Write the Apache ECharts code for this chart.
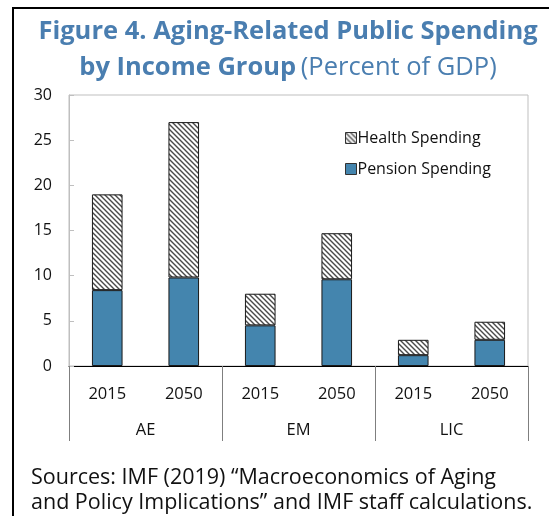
<!DOCTYPE html>
<html>
<head>
<meta charset="utf-8">
<script src="https://cdn.jsdelivr.net/npm/echarts@6/dist/echarts.min.js"></script>
<style>
  html, body { margin: 0; padding: 0; background: #fff; }
  #chart { width: 549px; height: 516px; }
</style>
</head>
<body>
<div id="chart"></div>
<script>
// Aging-related public spending, percent of GDP
const yearLabels = ['2015', '2050', '2015', '2050', '2015', '2050'];
const groupLabels = ['AE', 'EM', 'LIC'];
const pensionSpending = [8.4, 9.8, 4.5, 9.6, 1.2, 2.9];
const healthSpending = [10.6, 17.2, 3.5, 5.1, 1.7, 2.0];
const yTicks = { min: 0, max: 30, step: 5 };

const FONT = '"Open Sans", "Noto Sans", sans-serif';
const BLUE = '#4485AE';
const TITLE_BLUE = '#4A7EB0';

// diagonal hatch tile for the health bars
function hatchTile() {
  const s = 5;
  const c = document.createElement('canvas');
  c.width = s; c.height = s;
  const g = c.getContext('2d');
  g.fillStyle = '#fff';
  g.fillRect(0, 0, s, s);
  g.strokeStyle = '#4a4a4a';
  g.lineWidth = 1.4;
  g.beginPath();
  g.moveTo(-1, -1); g.lineTo(s + 1, s + 1);
  g.moveTo(-1, s - 1); g.lineTo(1, s + 1);
  g.moveTo(s - 1, -1); g.lineTo(s + 1, 1);
  g.stroke();
  return c;
}
const hatch = { image: hatchTile(), repeat: 'repeat' };

const chart = echarts.init(document.getElementById('chart'), null, { renderer: 'canvas' });

chart.setOption({
  backgroundColor: '#fff',
  textStyle: { fontFamily: FONT },
  animation: false,
  title: [
    {
      text: '{b|Figure 4. Aging-Related Public Spending}\n{b|by Income Group} {n|(Percent of GDP)}',
      left: 283,
      top: 9,
      textAlign: 'center',
      textStyle: {
        rich: {
          b: { fontFamily: FONT, fontSize: 25.5, fontWeight: 'bold', color: TITLE_BLUE, lineHeight: 36, align: 'center' },
          n: { fontFamily: FONT, fontSize: 25.5, fontWeight: 'normal', color: TITLE_BLUE, lineHeight: 36 }
        }
      }
    },
    {
      text: 'Sources: IMF (2019) \u201cMacroeconomics of Aging\nand Policy Implications\u201d and IMF staff calculations.',
      left: 26,
      top: 460,
      textStyle: { fontFamily: FONT, fontSize: 21.5, fontWeight: 'normal', color: '#111', lineHeight: 25 }
    }
  ],
  legend: {
    data: ['Health Spending', 'Pension Spending'],
    orient: 'vertical',
    left: 340,
    top: 125,
    itemWidth: 11,
    itemHeight: 11,
    itemGap: 15,
    icon: 'rect',
    itemStyle: { borderColor: '#333', borderWidth: 1 },
    textStyle: { fontFamily: FONT, fontSize: 16, color: '#111', padding: [0, 0, 0, -4] }
  },
  grid: {
    left: 69, right: 21, top: 95, bottom: 150,
    show: true, borderColor: '#BFBFBF', borderWidth: 1, backgroundColor: 'transparent'
  },
  xAxis: [
    {
      type: 'category',
      data: yearLabels,
      position: 'bottom',
      axisLine: { show: true, lineStyle: { color: '#000', width: 1 } },
      axisTick: { show: false },
      axisLabel: { fontFamily: FONT, fontSize: 16.5, color: '#111', margin: 20, interval: 0 },
      splitLine: { show: false }
    },
    {
      type: 'category',
      data: groupLabels,
      position: 'bottom',
      boundaryGap: true,
      axisLine: { show: false },
      axisTick: { show: true, length: 75, lineStyle: { color: '#7f7f7f', width: 1 } },
      axisLabel: { fontFamily: FONT, fontSize: 16.5, color: '#111', margin: 56, interval: 0 },
      splitLine: { show: false }
    }
  ],
  yAxis: {
    type: 'value',
    min: yTicks.min,
    max: yTicks.max,
    interval: yTicks.step,
    axisLine: { show: true, lineStyle: { color: '#BFBFBF' } },
    axisTick: { show: true, inside: true, length: 5, lineStyle: { color: '#BFBFBF' } },
    axisLabel: { fontFamily: FONT, fontSize: 16, color: '#111', margin: 17 },
    splitLine: { show: false }
  },
  series: [
    {
      name: 'Pension Spending',
      type: 'bar',
      stack: 'total',
      xAxisIndex: 0,
      barWidth: '40%',
      data: pensionSpending,
      itemStyle: { color: BLUE, borderColor: '#1a1a1a', borderWidth: 1 }
    },
    {
      name: 'Health Spending',
      type: 'bar',
      stack: 'total',
      xAxisIndex: 0,
      barWidth: '40%',
      data: healthSpending,
      itemStyle: { color: hatch, borderColor: '#1a1a1a', borderWidth: 1 }
    }
  ],
  graphic: [
    { type: 'line', shape: { x1: 12, y1: 8, x2: 549, y2: 8 }, style: { stroke: '#000', lineWidth: 2 } },
    { type: 'line', shape: { x1: 13, y1: 7, x2: 13, y2: 516 }, style: { stroke: '#000', lineWidth: 2 } }
  ]
});
</script>
</body>
</html>
